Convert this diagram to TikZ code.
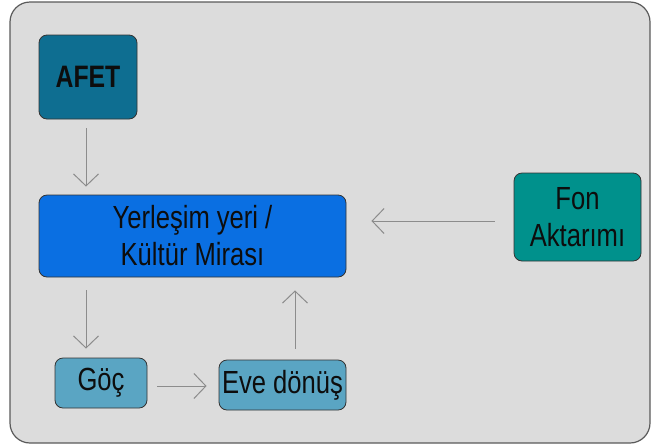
\documentclass[tikz,border=0pt]{standalone}
\usepackage{fontspec}
\setmainfont{Liberation Sans}[FakeStretch=0.8]
\usetikzlibrary{arrows.meta,calc}
\definecolor{bgc}{HTML}{DCDCDC}
\definecolor{bordc}{HTML}{5A5A5A}
\definecolor{afetc}{HTML}{0E6E91}
\definecolor{yerc}{HTML}{0A6FE2}
\definecolor{fonc}{HTML}{00918C}
\definecolor{smallc}{HTML}{5AA5C3}
\definecolor{arrc}{HTML}{8C8C8C}
\begin{document}
\begin{tikzpicture}[x=1pt,y=-1pt,
  box/.style={draw=black!80,line width=0.8pt,rounded corners=8pt,inner sep=0pt,align=center,
    font=\fontsize{32}{37}\selectfont,text=black!95},
  conn/.style={draw=arrc,line width=1pt,-{Straight Barb[length=12pt,width=25pt,line width=1pt]}}]
\useasboundingbox (0,0) rectangle (652,445);
\draw[fill=bgc,draw=bordc,line width=1.2pt,rounded corners=20pt] (10,2) rectangle (650,443);
\node[box,fill=afetc,minimum width=98pt,minimum height=84pt,font=\fontsize{31}{37}\selectfont\bfseries] (afet) at (88,77) {AFET};
\node[box,fill=yerc,minimum width=307pt,minimum height=82pt] (yer) at (192.5,236) {Yerleşim yeri /\\Kültür Mirası};
\node[box,fill=fonc,minimum width=127pt,minimum height=88pt] (fon) at (577.5,217) {Fon\\Aktarımı};
\node[box,fill=smallc,minimum width=92pt,minimum height=50pt] (goc) at (101,383) {Göç};
\node[box,fill=smallc,minimum width=127pt,minimum height=50pt] (eve) at (282.5,385) {Eve dönüş};
\draw[conn] ($(afet.south)+(-2,9)$) -- ($(afet.south |- yer.north)+(-2,-8)$);
\draw[conn] ($(yer.south -| afet.south)+(-2,13)$) -- ($(goc.north -| afet.south)+(-2,-9)$);
\draw[conn] ($(goc.east)+(10,3)$) -- ($(goc.east -| eve.west)+(-12,3)$);
\draw[conn] ($(eve.north)+(12.5,-11)$) -- ($(eve.north |- yer.south)+(12.5,13)$);
\draw[conn] ($(fon.west)+(-19,4)$) -- ($(fon.west -| yer.east)+(25,4)$);
\end{tikzpicture}
\end{document}
